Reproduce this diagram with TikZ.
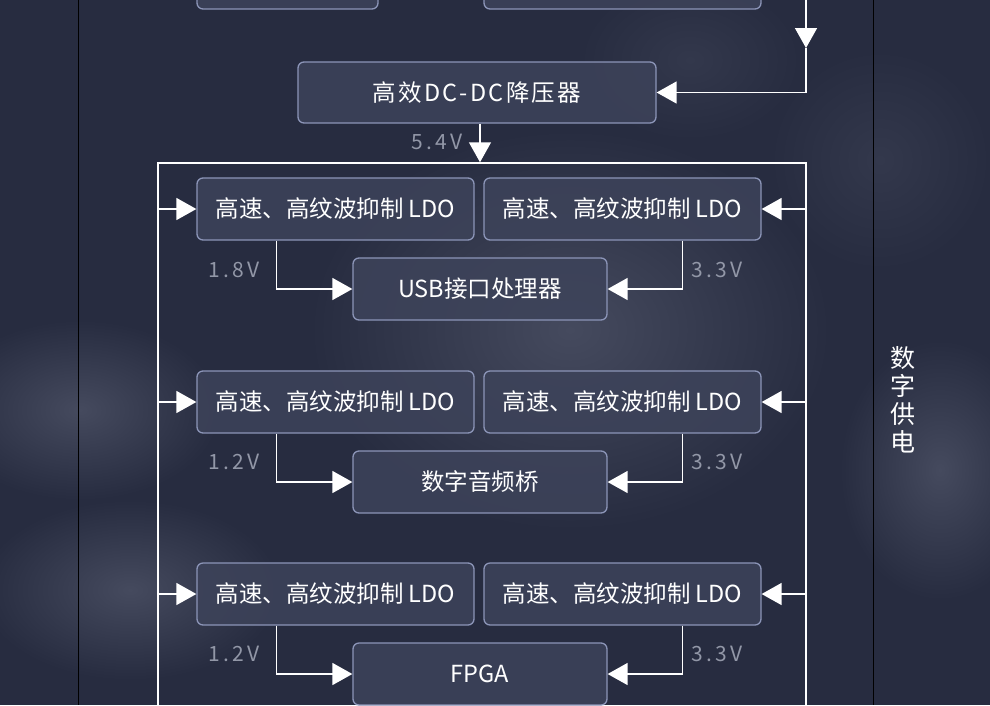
\documentclass[tikz,border=0pt]{standalone}
\usepackage{fontspec}
\setmainfont{Noto Sans CJK SC}
\usetikzlibrary{arrows.meta}
\definecolor{bg}{HTML}{272C40}
\definecolor{glow}{HTML}{454A5E}
\definecolor{boxfill}{HTML}{3D435A}
\definecolor{boxline}{HTML}{8C95B8}
\definecolor{voltgray}{HTML}{9297A7}
\definecolor{thin}{HTML}{9298B0}
\begin{document}
\begin{tikzpicture}[x=1pt,y=-1pt,
  box/.style={draw=boxline, line width=1.3pt, fill=boxfill, fill opacity=0.85, text opacity=1,
    rounded corners=6pt, minimum height=62pt, inner sep=0pt, text=white,
    font=\fontsize{23.5}{27}\selectfont},
  ldo/.style={box, minimum width=277pt},
  mid/.style={box, minimum width=254pt},
  conn/.style={draw=white, line width=1.5pt, -{Triangle[length=20pt,width=22pt]}},
  volt/.style={text=voltgray, inner sep=0pt, font=\fontsize{21}{25}\selectfont\addfontfeature{LetterSpace=17}},
]
\useasboundingbox (0,0) rectangle (990,705);
% background
\begin{scope}
\clip (0,0) rectangle (990,705);
\fill[bg] (0,0) rectangle (990,705);
\shade[inner color=glow, outer color=bg] (570,330) ellipse [x radius=260, y radius=200];
\shade[inner color=glow, outer color=bg] (80,410) ellipse [x radius=140, y radius=90];
\shade[inner color=glow, outer color=bg] (130,590) ellipse [x radius=150, y radius=90];
\shade[inner color=glow, outer color=bg] (940,470) ellipse [x radius=100, y radius=130];
\shade[inner color=bg!60!glow, outer color=bg] (690,60) ellipse [x radius=110, y radius=80];
\shade[inner color=bg!60!glow, outer color=bg] (880,160) ellipse [x radius=110, y radius=110];
\end{scope}

% thin outer lines
\coordinate (lt) at (78,0);  \coordinate (lb) at (78,705);
\coordinate (rt) at (873,0); \coordinate (rb) at (873,705);
\draw[thin, line width=0.8pt] (lt) -- (lb);
\draw[thin, line width=0.8pt] (rt) -- (rb);

% partial boxes at the top
\node[box, minimum width=181pt] (topL) at (287.5,-22) {};
\node[box, minimum width=277pt] (topR) at (622.5,-22) {};

% DC-DC
\node[box, minimum width=358pt, minimum height=61pt, font=\fontsize{23.5}{27}\selectfont\addfontfeature{LetterSpace=10}] (dcdc) at (477,92.5) {高效DC-DC降压器};
\coordinate (src) at (806,0);
\coordinate (mida) at (806,48);
\draw[conn] (src) -- (mida);
\draw[conn] (mida) |- (dcdc.east);

% frame
\node[draw=white, line width=1.5pt, minimum width=648pt, minimum height=600pt, inner sep=0pt] (frame) at (482,463) {};
\draw[conn] (dcdc.south -| 480,0) -- (frame.north -| 480,0);
\node[volt] (v54) at (437,142) {5.4V};

% row 1
\node[ldo] (l1) at (335.5,209) {高速、高纹波抑制 LDO};
\node[ldo] (r1) at (622.5,209) {高速、高纹波抑制 LDO};
\node[mid] (usb) at (480,289) {USB接口处理器};
\draw[conn] (frame.west |- l1) -- (l1.west);
\draw[conn] (frame.east |- r1) -- (r1.east);
\draw[conn] (l1.south west) ++(80,0) |- (usb.west);
\draw[conn] (r1.south east) ++(-79,0) |- (usb.east);
\node[volt] (v18) at (234,270) {1.8V};
\node[volt] (v33a) at (717,270) {3.3V};

% row 2
\node[ldo] (l2) at (335.5,402) {高速、高纹波抑制 LDO};
\node[ldo] (r2) at (622.5,402) {高速、高纹波抑制 LDO};
\node[mid] (bridge) at (480,482) {数字音频桥};
\draw[conn] (frame.west |- l2) -- (l2.west);
\draw[conn] (frame.east |- r2) -- (r2.east);
\draw[conn] (l2.south west) ++(80,0) |- (bridge.west);
\draw[conn] (r2.south east) ++(-79,0) |- (bridge.east);
\node[volt] (v12a) at (234,462) {1.2V};
\node[volt] (v33b) at (717,462) {3.3V};

% row 3
\node[ldo] (l3) at (335.5,594) {高速、高纹波抑制 LDO};
\node[ldo] (r3) at (622.5,594) {高速、高纹波抑制 LDO};
\node[mid] (fpga) at (480,674) {FPGA};
\draw[conn] (frame.west |- l3) -- (l3.west);
\draw[conn] (frame.east |- r3) -- (r3.east);
\draw[conn] (l3.south west) ++(80,0) |- (fpga.west);
\draw[conn] (r3.south east) ++(-79,0) |- (fpga.east);
\node[volt] (v12b) at (234,654) {1.2V};
\node[volt] (v33c) at (717,654) {3.3V};

% side label
\node[text=white, align=center, inner sep=0pt, font=\fontsize{25}{28}\selectfont] (side) at (903,400) {数\\字\\供\\电};
\end{tikzpicture}
\end{document}
